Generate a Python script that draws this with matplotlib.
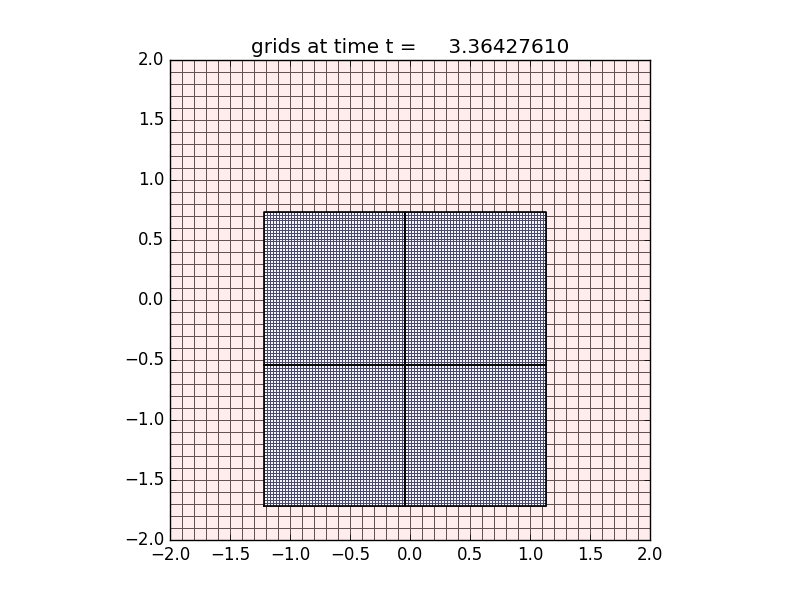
import numpy as np
import matplotlib
matplotlib.use("Agg")
import matplotlib.pyplot as plt
from matplotlib.colors import ListedColormap

# ------------------------------
# grid data (level 1 coarse grid, level 2 patches)
# ------------------------------
t = 3.36427610
coarse_x = [-2.0, 2.0]
coarse_y = [-2.0, 2.0]
coarse_n = 40

fine_dx = 0.025
# patch lower-left corners and cell counts (nx, ny)
patch_x0 = [-1.22, -0.045, -1.22, -0.045]
patch_y0 = [-1.7125, -1.7125, -0.5375, -0.5375]
patch_nx = [47, 47, 47, 47]
patch_ny = [47, 47, 51, 51]

ticks = [-2.0, -1.5, -1.0, -0.5, 0.0, 0.5, 1.0, 1.5, 2.0]

# ------------------------------
# plot
# ------------------------------
plt.style.use('classic')
fig = plt.figure(figsize=(8, 6), dpi=100, facecolor='white')
ax = fig.add_subplot(111)

xe = np.linspace(coarse_x[0], coarse_x[1], coarse_n + 1)
ye = np.linspace(coarse_y[0], coarse_y[1], coarse_n + 1)
ax.pcolormesh(xe, ye, np.zeros((coarse_n, coarse_n)), cmap=ListedColormap(['#ffeded']),
              edgecolors='#625252', linewidth=0.6)

for x0, y0, nx, ny in zip(patch_x0, patch_y0, patch_nx, patch_ny):
    fx = x0 + fine_dx * np.arange(nx + 1)
    fy = y0 + fine_dx * np.arange(ny + 1)
    ax.pcolormesh(fx, fy, np.zeros((ny, nx)), cmap=ListedColormap(['#f4f4ff']),
                  edgecolors='#4a4a66', linewidth=0.4)
    ax.plot([fx[0], fx[-1], fx[-1], fx[0], fx[0]],
            [fy[0], fy[0], fy[-1], fy[-1], fy[0]], color='black', linewidth=1.2)

ax.set_xlim(-2, 2)
ax.set_ylim(-2, 2)
ax.set_aspect('equal')
ax.set_xticks(ticks)
ax.set_yticks(ticks)
ax.set_title('grids at time t = %14.8f' % t)

fig.savefig('out.png', dpi=100, facecolor='white')
